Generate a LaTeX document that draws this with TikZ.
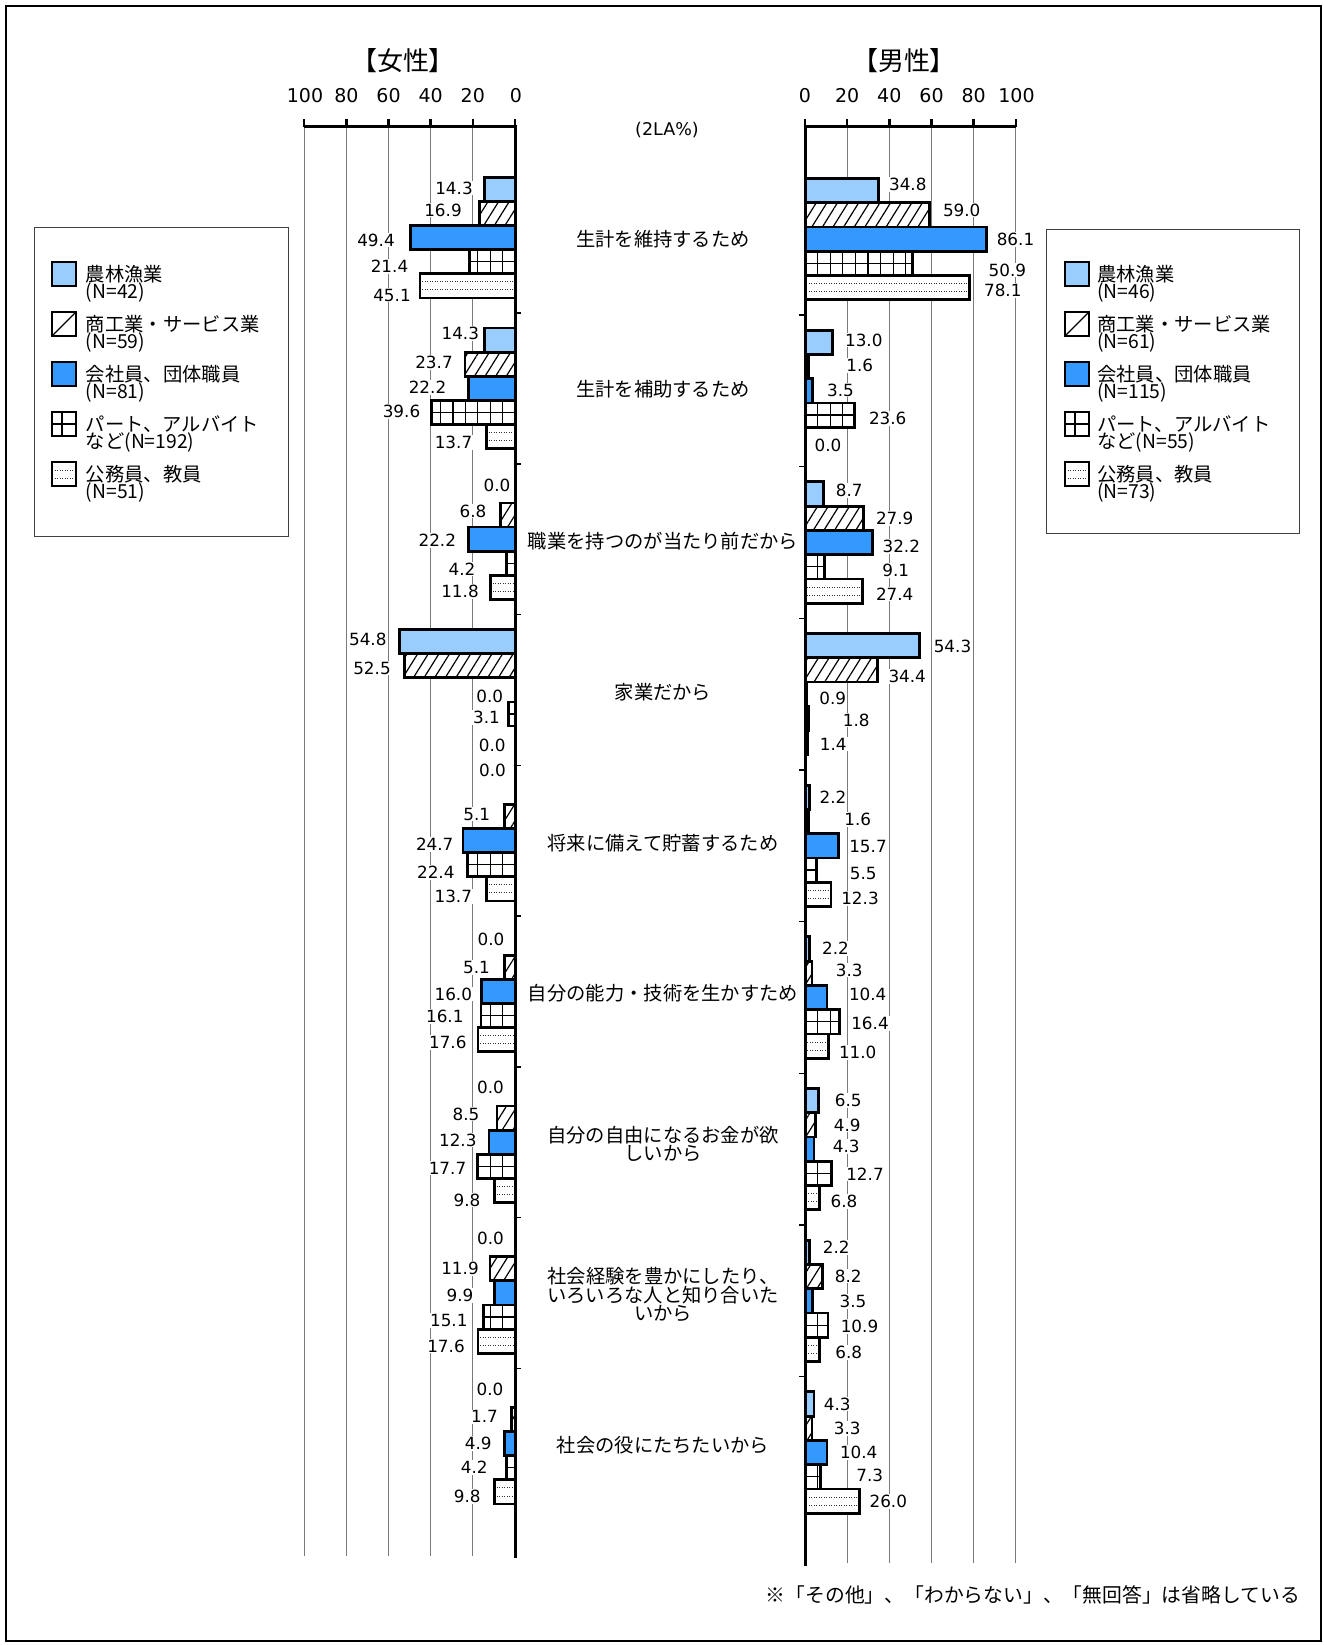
\documentclass[tikz,border=0pt]{standalone}
\usepackage{fontspec}
\setmainfont{DejaVu Sans}
\newfontfamily\jp{Noto Sans CJK JP}
\newfontfamily\jpp{Noto Sans CJK JP}[RawFeature=+palt]
\usetikzlibrary{patterns.meta}
\definecolor{lblue}{HTML}{99CCFF}
\definecolor{mblue}{HTML}{3399FF}
\definecolor{gridc}{HTML}{7A7A7A}

% bar: #1 free end x, #2 axis x, #3 top y, #4 bottom y, #5 type, #6 signed grid step
\newcommand\mybar[6]{%
  \ifcase#5\relax
    \draw[barb, fill=lblue] (#1,#3) rectangle (#2,#4);
  \or
    \fill[white] (#1,#3) rectangle (#2,#4);
    \fill[pattern={Lines[angle=58,distance=9pt,line width=1.2pt]}] (#1,#3) rectangle (#2,#4);
    \draw[barb] (#1,#3) rectangle (#2,#4);
  \or
    \draw[barb, fill=mblue] (#1,#3) rectangle (#2,#4);
  \or
    \begin{scope}
      \clip (#1,#3) rectangle (#2,#4);
      \fill[white] (#1,#3) rectangle (#2,#4);
      \foreach \q in {1,...,20} \draw[line width=1.3pt] ({#2+(#6)*\q},#3) -- ({#2+(#6)*\q},#4);
      \draw[line width=1.3pt] (#1,{(#3+#4)/2}) -- (#2,{(#3+#4)/2});
    \end{scope}
    \draw[barb] (#1,#3) rectangle (#2,#4);
  \or
    \fill[white] (#1,#3) rectangle (#2,#4);
    \draw[dotl] (#1,{#3+(#4-#3)/3}) -- (#2,{#3+(#4-#3)/3});
    \draw[dotl] (#1,{#3+2*(#4-#3)/3}) -- (#2,{#3+2*(#4-#3)/3});
    \draw[barb] (#1,#3) rectangle (#2,#4);
  \fi}

% legend swatch: #1 left x, #2 top y, #3 type
\newcommand\myswatch[3]{%
  \pgfmathsetmacro\swr{#1+24}\pgfmathsetmacro\swb{#2+24}%
  \ifcase#3\relax
    \draw[barb, fill=lblue] (#1,#2) rectangle (\swr,\swb);
  \or
    \fill[white] (#1,#2) rectangle (\swr,\swb);
    \draw[line width=1.3pt] (#1,\swb) -- (\swr,#2);
    \draw[barb] (#1,#2) rectangle (\swr,\swb);
  \or
    \draw[barb, fill=mblue] (#1,#2) rectangle (\swr,\swb);
  \or
    \fill[white] (#1,#2) rectangle (\swr,\swb);
    \draw[line width=1.3pt] ({#1+10},#2) -- ({#1+10},\swb);
    \draw[line width=1.3pt] (#1,{#2+12}) -- (\swr,{#2+12});
    \draw[barb] (#1,#2) rectangle (\swr,\swb);
  \or
    \fill[white] (#1,#2) rectangle (\swr,\swb);
    \draw[dotl] (#1,{#2+8}) -- (\swr,{#2+8});
    \draw[dotl] (#1,{#2+16}) -- (\swr,{#2+16});
    \draw[barb] (#1,#2) rectangle (\swr,\swb);
  \fi}

\def\fdata{14.3/454/188, 16.9/443/210, 49.4/376/240, 21.4/389.5/266.7, 45.1/392/295,
14.3/460.3/333.3, 23.7/434/362.3, 22.2/427.5/387.3, 39.6/401.5/411.7, 13.7/453.5/442.7,
0.0/497/485.7, 6.8/473/511, 22.2/437.3/540.7, 4.2/462/569, 11.8/460/591.7,
54.8/367.8/639, 52.5/372/668, 0.0/489.8/696.7, 3.1/486.5/717.7, 0.0/492.3/745,
0.0/492.5/770.7, 5.1/476.7/814, 24.7/434.7/844.3, 22.4/435.8/872.7, 13.7/453.3/896.7,
0.0/491/939, 5.1/476.5/967.3, 16.0/453.3/994, 16.1/444.8/1016.7, 17.6/447.8/1042.7,
0.0/490.5/1087.3, 8.5/466/1114, 12.3/457.8/1140, 17.7/447.5/1168.3, 9.8/467/1200,
0.0/490.5/1238.3, 11.9/460/1268.3, 9.9/460/1295.7, 15.1/448.8/1320.7, 17.6/446/1346,
0.0/490/1389.3, 1.7/484.5/1416.7, 4.9/478.3/1443.3, 4.2/474.2/1467.3, 9.8/467.3/1496.7}

\def\mdata{34.8/907.8/184.3, 59.0/961.7/210, 86.1/1015.5/239.3, 50.9/1007.4/270, 78.1/1002.8/290.7,
13.0/863.8/340, 1.6/859.8/365.7, 3.5/840.5/390, 23.6/887.7/418.3, 0.0/828/445,
8.7/849.2/490.7, 27.9/894.7/518.3, 32.2/901.3/546.7, 9.1/895.7/570.7, 27.4/894.7/594,
54.3/952.5/646, 34.4/907.2/676.7, 0.9/832.7/698.3, 1.8/856.2/720, 1.4/833.3/744,
2.2/833/797.3, 1.6/857.8/819.3, 15.7/868/846, 5.5/863.3/873.3, 12.3/860/898.3,
2.2/835.5/948.3, 3.3/849.3/970, 10.4/867.7/994, 16.4/870/1023.3, 11.0/857.7/1052.7,
6.5/848.3/1100.7, 4.9/847.3/1125, 4.3/846.3/1146.7, 12.7/865/1174, 6.8/844/1201.7,
2.2/836.3/1247.3, 8.2/848.3/1276, 3.5/853/1301.7, 10.9/859.5/1326.7, 6.8/848.8/1352.3,
4.3/837.3/1404, 3.3/847.3/1428.3, 10.4/858.7/1452.7, 7.3/869.7/1475, 26.0/888.3/1501.7}

\begin{document}
\begin{tikzpicture}[x=1pt,y=-1pt,
  vlab/.style={font=\fontsize{16.8}{18}\selectfont, fill=white, inner sep=1pt},
  tlab/.style={font=\fontsize{19}{20}\selectfont, inner sep=0pt},
  jlab/.style={font=\jp\fontsize{19.3}{20}\selectfont, inner sep=0pt},
  barb/.style={draw=black, line width=2.8pt},
  dotl/.style={line width=0.9pt, black!80, dash pattern=on 0.9pt off 1.6pt},
  gridl/.style={draw=gridc, line width=1.1pt}]
\useasboundingbox (0,0) rectangle (1324,1645);
\fill[white] (0,0) rectangle (1324,1645);
\draw[line width=2pt] (5.5,6.5) rectangle (1320.5,1640.5);

% grid lines
\foreach \xx in {304.2,346.4,388.5,430.7,472.8} \draw[gridl] (\xx,127) -- (\xx,1556);
\foreach \xx in {847.2,889.3,931.5,973.6,1015.8} \draw[gridl] (\xx,127) -- (\xx,1563);

% value labels
\foreach \val/\cx/\cy [count=\kk from 0] in \fdata { \node[vlab] (fl\kk) at (\cx,\cy) {\val}; }
\foreach \val/\cx/\cy [count=\kk from 0] in \mdata { \node[vlab] (ml\kk) at (\cx,\cy) {\val}; }

% female bars
\foreach \val/\cx/\cy [count=\kk from 0] in \fdata {
  \pgfmathtruncatemacro\bg{\kk/5}
  \pgfmathtruncatemacro\bj{\kk-5*\bg}
  \pgfmathsetmacro\yt{177.3+150.76*\bg+24.12*\bj}
  \pgfmathsetmacro\yb{\yt+24.12}
  \pgfmathsetmacro\xe{515-2.108*\val}
  \pgfmathtruncatemacro\nz{\val>0 ? 1 : 0}
  \ifnum\nz=1 \mybar{\xe}{515}{\yt}{\yb}{\bj}{-12.4}\fi
}
% male bars
\foreach \val/\cx/\cy [count=\kk from 0] in \mdata {
  \pgfmathtruncatemacro\bg{\kk/5}
  \pgfmathtruncatemacro\bj{\kk-5*\bg}
  \pgfmathsetmacro\yt{178.5+151.67*\bg+24.27*\bj}
  \pgfmathsetmacro\yb{\yt+24.27}
  \pgfmathsetmacro\xe{805+2.108*\val}
  \pgfmathtruncatemacro\nz{\val>0 ? 1 : 0}
  \ifnum\nz=1 \mybar{\xe}{805}{\yt}{\yb}{\bj}{12.6}\fi
}

% axes
\draw[line width=3pt] (515,125.5) -- (515,1558);
\draw[line width=3pt] (805,125.5) -- (805,1566);
\draw[line width=3pt] (304.2,127) -- (516.5,127);
\draw[line width=3pt] (803.5,127) -- (1015.8,127);
\foreach \xx in {304.2,346.4,388.5,430.7,472.8,515} \draw[line width=2.5pt] (\xx,119) -- (\xx,127);
\foreach \xx in {805,847.2,889.3,931.5,973.6,1015.8} \draw[line width=2.5pt] (\xx,119) -- (\xx,127);
\foreach \i in {1,...,8} \draw[line width=1.5pt] (515,{162.24+150.76*\i}) -- (521,{162.24+150.76*\i});
\foreach \i in {1,...,8} \draw[line width=1.5pt] (799,{163.33+151.67*\i}) -- (805,{163.33+151.67*\i});

% axis tick labels
\foreach \t/\xx [count=\i] in {100/305,80/346.4,60/388.5,40/430.7,20/472.8,0/516}
  \node[tlab] (ft\i) at (\xx,95.5) {\t};
\foreach \t/\xx [count=\i] in {0/805,20/847.2,40/889.3,60/931.5,80/973.6,100/1016.5}
  \node[tlab] (mt\i) at (\xx,95.5) {\t};

% titles
\node[font=\jpp\fontsize{26}{28}\selectfont, inner sep=0pt] (tfemale) at (403,61) {【女性】};
\node[font=\jpp\fontsize{26}{28}\selectfont, inner sep=0pt] (tmale) at (904,61) {【男性】};
\node[font=\fontsize{17.5}{19}\selectfont, inner sep=0pt] (unit) at (667,130) {(2LA\%)};

% category labels
\node[jlab] (c1) at (663,239) {生計を維持するため};
\node[jlab] (c2) at (663,389) {生計を補助するため};
\node[jlab] (c3) at (663,541.5) {職業を持つのが当たり前だから};
\node[jlab] (c4) at (663,692) {家業だから};
\node[jlab] (c5) at (663,842.7) {将来に備えて貯蓄するため};
\node[jlab] (c6) at (663,993) {自分の能力・技術を生かすため};
\node[jlab] (c7a) at (663,1135) {自分の自由になるお金が欲};
\node[jlab] (c7b) at (663,1153) {しいから};
\node[jlab] (c8a) at (663,1276) {社会経験を豊かにしたり、};
\node[jlab] (c8b) at (663,1295) {いろいろな人と知り合いた};
\node[jlab] (c8c) at (663,1313) {いから};
\node[jlab] (c9) at (663,1445) {社会の役にたちたいから};

% legends
\draw[line width=1pt, black!75] (34.4,228) rectangle (288,536);
\draw[line width=1pt, black!75] (1046,230) rectangle (1299,533);
\foreach \i in {0,...,4} {
  \myswatch{52}{262+50*\i}{\i}
  \myswatch{1065}{262+50*\i}{\i}
}
\foreach \a/\b [count=\i from 0] in {農林漁業/(N=42), 商工業・サービス業/(N=59), 会社員、団体職員/(N=81), パート、アルバイト/など(N=192), 公務員、教員/(N=51)} {
  \node[jlab, anchor=west] (fla\i) at (85.7,274+50*\i) {\a};
  \node[jlab, anchor=west] (flb\i) at (85.7,292.5+50*\i) {\b};
}
\foreach \a/\b [count=\i from 0] in {農林漁業/(N=46), 商工業・サービス業/(N=61), 会社員、団体職員/(N=115), パート、アルバイト/など(N=55), 公務員、教員/(N=73)} {
  \node[jlab, anchor=west] (mla\i) at (1097,274+50*\i) {\a};
  \node[jlab, anchor=west] (mlb\i) at (1097,292.5+50*\i) {\b};
}

% footnote
\node[font=\jp\fontsize{19.8}{21}\selectfont, inner sep=0pt, anchor=east] (note) at (1300,1595) {※「その他」、「わからない」、「無回答」は省略している};
\end{tikzpicture}
\end{document}
